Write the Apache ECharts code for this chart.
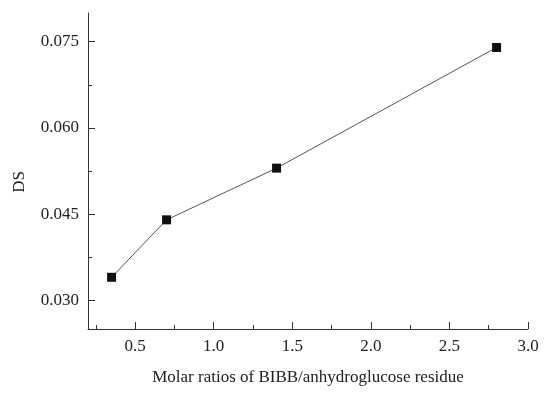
<!DOCTYPE html>
<html>
<head>
<meta charset="utf-8">
<script src="https://cdn.jsdelivr.net/npm/echarts@6/dist/echarts.min.js"></script>
<style>html,body{margin:0;padding:0;background:#fff}#c{width:550px;height:396px}</style>
</head>
<body>
<div id="c"></div>
<script>
var molarRatios = [0.35, 0.7, 1.4, 2.8];
var dsValues = [0.034, 0.044, 0.053, 0.074];
var xMajorTicks = [0.5, 1.0, 1.5, 2.0, 2.5, 3.0];
var xMinorTicks = [0.25, 0.75, 1.25, 1.75, 2.25, 2.75];
var yMajorTicks = [0.030, 0.045, 0.060, 0.075];
var yMinorTicks = [0.0375, 0.0525, 0.0675];

var font = 'Liberation Serif';
var axisColor = '#333';
var chart = echarts.init(document.getElementById('c'));
var points = molarRatios.map(function (x, i) { return [x, dsValues[i]]; });

chart.setOption({
  animation: false,
  grid: { left: 88, right: 22, top: 13, bottom: 67, containLabel: false, outerBoundsMode: 'none' },
  xAxis: [{
    type: 'value', min: 0.2, max: 3.0,
    name: 'Molar ratios of BIBB/anhydroglucose residue',
    nameLocation: 'middle', nameGap: 40,
    nameTextStyle: { fontFamily: font, fontSize: 17, color: '#222' },
    axisLine: { show: true, lineStyle: { color: axisColor, width: 1 } },
    axisTick: { show: true, inside: true, length: 7, customValues: xMajorTicks, lineStyle: { color: axisColor } },
    axisLabel: { customValues: xMajorTicks, fontFamily: font, fontSize: 17, color: '#222', margin: 9,
      formatter: function (v) { return v.toFixed(1); } },
    splitLine: { show: false }
  }, {
    type: 'value', min: 0.2, max: 3.0, position: 'bottom',
    axisLine: { show: false },
    axisTick: { show: true, inside: true, length: 4, customValues: xMinorTicks, lineStyle: { color: axisColor } },
    axisLabel: { show: false },
    splitLine: { show: false }
  }],
  yAxis: [{
    type: 'value', min: 0.025, max: 0.080,
    name: 'DS', nameLocation: 'middle', nameGap: 60,
    nameTextStyle: { fontFamily: font, fontSize: 17, color: '#222', padding: [0, 22, 0, 0] },
    axisLine: { show: true, lineStyle: { color: axisColor, width: 1 } },
    axisTick: { show: true, inside: true, length: 7, customValues: yMajorTicks, lineStyle: { color: axisColor } },
    axisLabel: { customValues: yMajorTicks, fontFamily: font, fontSize: 17, color: '#222', margin: 9,
      formatter: function (v) { return v.toFixed(3); } },
    splitLine: { show: false }
  }, {
    type: 'value', min: 0.025, max: 0.080, position: 'left',
    axisLine: { show: false },
    axisTick: { show: true, inside: true, length: 4, customValues: yMinorTicks, lineStyle: { color: axisColor } },
    axisLabel: { show: false },
    splitLine: { show: false }
  }],
  series: [{
    type: 'line',
    data: points,
    symbol: 'rect', symbolSize: 9,
    itemStyle: { color: '#111' },
    lineStyle: { color: '#555', width: 1 }
  }]
});
</script>
</body>
</html>
